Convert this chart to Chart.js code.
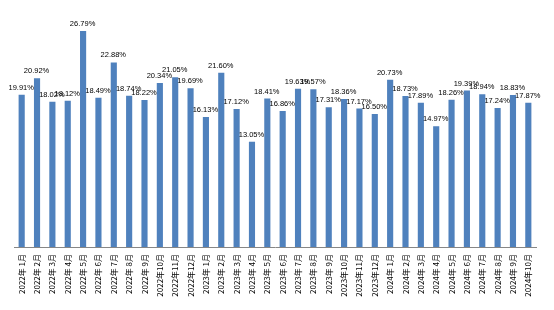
<!DOCTYPE html>
<html>
<head>
<meta charset="utf-8">
<script src="https://cdn.jsdelivr.net/npm/chart.js@4"></script>
<style>
  html, body { margin: 0; padding: 0; background: #fff; }
  #chart { display: block; }
</style>
</head>
<body>
<canvas id="chart" width="554" height="310"></canvas>
<script>
// --- Datos ---
const months = [
  '2022年 1月', '2022年 2月', '2022年 3月', '2022年 4月', '2022年 5月', '2022年 6月',
  '2022年 7月', '2022年 8月', '2022年 9月', '2022年10月', '2022年11月', '2022年12月',
  '2023年 1月', '2023年 2月', '2023年 3月', '2023年 4月', '2023年 5月', '2023年 6月',
  '2023年 7月', '2023年 8月', '2023年 9月', '2023年10月', '2023年11月', '2023年12月',
  '2024年 1月', '2024年 2月', '2024年 3月', '2024年 4月', '2024年 5月', '2024年 6月',
  '2024年 7月', '2024年 8月', '2024年 9月', '2024年10月'
];

// bar heights
const values = [
  18.86, 20.92, 18.02, 18.12, 26.79, 18.49, 22.88, 18.74, 18.22, 20.34, 21.05, 19.69,
  16.13, 21.60, 17.12, 13.05, 18.41, 16.86, 19.63, 19.57, 17.31, 18.36, 17.17, 16.50,
  20.73, 18.73, 17.89, 14.97, 18.26, 19.39, 18.94, 17.24, 18.83, 17.87
];

// data label texts as printed on the picture
const labelTexts = [
  '19.91%', '20.92%', '18.02%', '18.12%', '26.79%', '18.49%', '22.88%', '18.74%', '18.22%', '20.34%', '21.05%', '19.69%',
  '16.13%', '21.60%', '17.12%', '13.05%', '18.41%', '16.86%', '19.63%', '19.57%', '17.31%', '18.36%', '17.17%', '16.50%',
  '20.73%', '18.73%', '17.89%', '14.97%', '18.26%', '19.39%', '18.94%', '17.24%', '18.83%', '17.87%'
];

const yMin = 0;
const yMax = 30;

// --- Etiquetas encima de las barras ---
const barLabels = {
  id: 'barLabels',
  afterDatasetsDraw(chart) {
    const ctx = chart.ctx;
    const meta = chart.getDatasetMeta(0);
    ctx.save();
    ctx.font = '7.5px "Liberation Sans", Arial, sans-serif';
    ctx.fillStyle = '#000';
    ctx.textAlign = 'center';
    ctx.textBaseline = 'middle';
    meta.data.forEach((bar, i) => {
      ctx.fillText(labelTexts[i], bar.x - 0.5, bar.y - 7);
    });
    ctx.restore();
  }
};

new Chart(document.getElementById('chart').getContext('2d'), {
  type: 'bar',
  data: {
    labels: months,
    datasets: [{
      data: values,
      backgroundColor: '#4F81BD',
      borderWidth: 0,
      categoryPercentage: 1,
      barPercentage: 0.4
    }]
  },
  options: {
    responsive: false,
    animation: false,
    layout: { padding: { left: 14, right: 18, top: 5, bottom: 0 } },
    plugins: {
      legend: { display: false },
      tooltip: { enabled: false }
    },
    scales: {
      x: {
        grid: { display: false, drawTicks: false },
        border: { display: true, color: '#868686', width: 1 },
        ticks: {
          autoSkip: false,
          minRotation: 90,
          maxRotation: 90,
          padding: 7,
          color: '#000',
          font: { family: '"Noto Sans CJK SC", sans-serif', size: 8 }
        },
        afterFit(scale) { scale.height = 63; }
      },
      y: {
        display: false,
        min: yMin,
        max: yMax
      }
    }
  },
  plugins: [barLabels]
});
</script>
</body>
</html>
